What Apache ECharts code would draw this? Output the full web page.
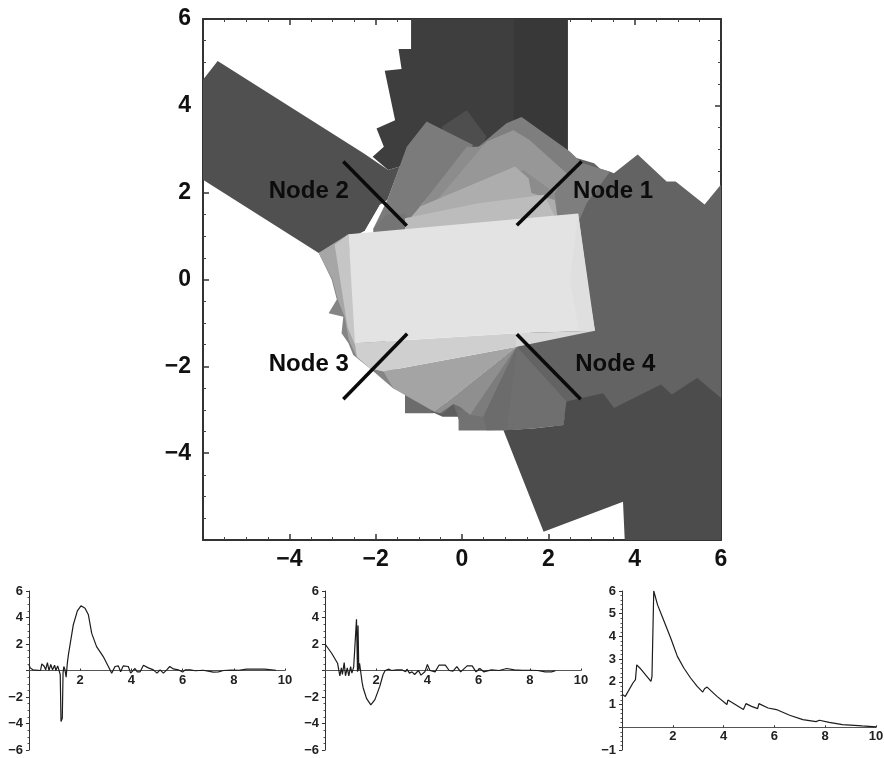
<!DOCTYPE html>
<html><head><meta charset="utf-8">
<style>html,body{margin:0;padding:0;background:#fff}#c{width:884px;height:758px;filter:blur(0.35px)}</style>
<script src="https://cdn.jsdelivr.net/npm/echarts@6/dist/echarts.min.js"></script>
</head><body><div id="c"></div>
<script>
// Regions of the main panel, in data units, painted back to front
const regionTop = [[-1.18,6],[2.45,6],[2.45,2.9],[1.2,2.6],[-1.3,2.3],[-1.44,2.6],[-1.71,2.52],[-2.07,2.83],[-1.81,3.06],[-1.98,3.48],[-1.55,3.67],[-1.79,4.81],[-1.40,4.85],[-1.47,5.31],[-1.18,5.31]];
const regionTopStrip = [[1.2,6],[2.45,6],[2.45,2.95],[1.2,3.6]];
const regionRight = [[2.3,2.9],[3.06,2.68],[3.2,2.55],[3.43,2.48],[3.52,2.45],[4.07,2.88],[4.74,2.26],[4.95,2.26],[5.62,1.73],[6,2.19],[6,-2.73],[2.4,-3.2],[1.27,-1.55],[2.68,0]];
const regionLower = [[0.96,-3.47],[1.89,-5.81],[3.73,-5.12],[3.77,-6],[6,-6],[6,-2.73],[5.45,-2.27],[4.86,-2.65],[4.61,-2.42],[3.52,-2.96],[3.27,-2.62],[2.42,-2.81],[2.35,-3.35],[1.65,-3.43]];
const regionBand = [[-6,4.6],[-5.66,5.03],[-2.28,2.91],[-1.71,2.52],[-1.44,2.6],[-1.73,1.83],[-1.90,1.72],[-2.25,1.12],[-2.7,0.9],[-3.32,0.61],[-6,2.3]];
const regionPeak = [[-0.47,3.52],[0.11,3.90],[0.57,3.29],[0.38,2.9],[-0.3,2.9]];
const regionOuterRight = [[0.38,3.06],[1.03,3.60],[1.38,3.74],[2.5,2.95],[2.77,2.69],[3.43,2.48],[2.89,1.76],[2.69,1.3],[0,1.1]];
const regionFanLeft = [[-0.82,3.64],[0.26,3.10],[-0.97,1.68],[-1.0,1.0],[-2.05,1.0],[-2.05,1.18],[-1.73,1.83],[-1.28,3.06]];
const regionFanWedge = [[-2.05,1.18],[-1.73,1.5],[-1.28,1.5],[-1.28,1.0],[-2.05,1.0]];
const regionFanMid = [[0.11,3.06],[0.38,3.06],[1.19,3.44],[1.57,3.21],[2.42,2.45],[2.15,1.99],[2.23,1.3],[-1.2,1.0],[-0.97,1.68]];
const regionFanMidRight = [[0.57,3.18],[1.19,3.44],[1.57,3.21],[2.42,2.45],[2.15,1.99],[1.42,2.52],[-0.6,1.8]];
const regionFanLight = [[1.23,2.6],[1.54,2.33],[1.61,1.99],[2.15,1.83],[2.23,1.3],[-1.32,1.0],[-1.32,1.27],[-0.97,1.68]];
const regionFanPale = [[-1.32,1.0],[-1.32,1.41],[0.34,1.75],[1.9,1.95],[2.23,1.3]];
const regionSliver = [[-1.90,1.72],[-1.81,1.72],[-2.13,1.14],[-2.25,1.12]];
const regionSideOuter = [[-3.32,0.61],[-2.63,1.04],[-1.36,-2.58],[-1.59,-2.51],[-2.13,-2.05],[-2.52,-1.74],[-2.63,-1.47],[-2.79,-1.24],[-2.75,-0.86],[-3.09,-0.78],[-2.9,-0.46],[-3.02,0]];
const regionSideMid = [[-3.32,0.61],[-2.63,1.04],[-2.44,-1.78],[-2.62,-1.4],[-2.72,-0.86],[-2.88,-0.46],[-3.0,0]];
const regionSidePale = [[-2.95,0.8],[-2.63,1.04],[-2.44,-1.6],[-2.65,-1.1]];
const regionBottomBack = [[1.27,-1.55],[-0.63,-3.05],[-0.45,-3.1],[-0.2,-2.87],[-0.05,-3.3],[0.96,-3.47],[2.35,-3.35],[2.42,-2.81]];
const regionBottomTile = [[-1.32,-2.4],[-1.32,-3.08],[-0.66,-3.08],[0.2,-2.2]];
const regionBottomNick = [[-0.72,-3.04],[-0.45,-3.16],[-0.08,-3.16],[-0.1,-2.7]];
const regionBottomFoot = [[-0.08,-3.0],[-0.08,-3.48],[0.57,-3.48],[0.96,-3.47],[1.3,-3.0]];
const regionSliceA = [[1.27,-1.55],[1.03,-3.47],[1.65,-3.43],[2.35,-3.35],[2.42,-2.81]];
const regionSliceB = [[1.27,-1.55],[0.49,-3.16],[0.57,-3.47],[1.03,-3.47]];
const regionSliceC = [[1.27,-1.55],[0.19,-3.12],[0.49,-3.16]];
const regionSliceD = [[1.27,-1.55],[-0.63,-3.05],[-0.51,-3.08],[-0.2,-2.87],[-0.05,-2.93],[0.19,-3.12]];
const regionSliceE = [[-1.82,-2.12],[1.27,-1.55],[-0.63,-3.05],[-1.59,-2.51]];
const regionStrip = [[-2.48,-1.47],[1.27,-1.24],[1.27,-1.55],[-1.82,-2.12],[-2.13,-2.05],[-2.44,-1.78]];
const regionBox = [[-2.63,1.04],[2.69,1.52],[3.08,-1.18],[1.27,-1.24],[-2.48,-1.47]];
const regionBoxEdge = [[2.69,1.52],[2.96,-0.47],[3.08,-1.18],[2.72,-1.2],[2.5,0]];
const regionStripRight = [[1.27,-1.24],[3.08,-1.18],[1.27,-1.55]];

const regions = [regionTop,regionTopStrip,regionBand,regionRight,regionPeak,regionOuterRight,regionFanLeft,regionFanWedge,regionFanMid,regionFanMidRight,regionFanLight,regionFanPale,regionSliver,regionSideOuter,regionSideMid,regionSidePale,regionBottomTile,regionBottomNick,regionBottomBack,regionBottomFoot,regionSliceA,regionSliceB,regionSliceC,regionSliceD,regionSliceE,regionStrip,regionLower,regionBox,regionBoxEdge,regionStripRight];
const regionGrays = ['#3e3e3e','#383838','#505050','#636363','#4e4e4e','#7e7e7e','#7b7b7b','#757575','#8c8c8c','#979797','#adadad','#bcbcbc','#ffffff','#858585','#a6a6a6','#c6c6c6','#6c6c6c','#5e5e5e','#6c6c6c','#727272','#6f6f6f','#6c6c6c','#7c7c7c','#8f8f8f','#a4a4a4','#cfcfcf','#4c4c4c','#e3e3e3','#dfdfdf','#d8d8d8'];

// Node rays and labels
const nodeRays = [[[1.27,1.25],[2.77,2.72]],[[-1.28,1.24],[-2.75,2.72]],[[-1.27,-1.25],[-2.75,-2.76]],[[1.27,-1.26],[2.75,-2.76]]];
const nodeLabels = ['Node 1','Node 2','Node 3','Node 4'];
const nodeLabelPos = [[3.5,2.03],[-3.55,2.03],[-3.55,-1.95],[3.55,-1.95]];

// Lower traces
const trace1 = [[0,0.4],[0.05,0.2],[0.15,0.05],[0.45,0],[0.5,0.5],[0.6,0.3],[0.65,0.05],[0.72,0.6],[0.78,0],[0.85,0.45],[0.92,0.05],[1,0.4],[1.05,0],[1.12,0.35],[1.18,0.3],[1.22,-0.3],[1.25,-3.85],[1.3,-3.6],[1.33,-0.2],[1.36,0.3],[1.4,0.1],[1.45,-0.5],[1.5,0.6],[1.54,1.2],[1.73,3.45],[1.89,4.5],[2.03,4.88],[2.19,4.7],[2.32,4.2],[2.45,2.8],[2.64,1.8],[2.9,1.05],[3.1,0.3],[3.23,-0.2],[3.36,0.3],[3.49,0.35],[3.58,-0.1],[3.68,0.35],[3.88,0.3],[3.97,-0.2],[4.14,0.15],[4.23,-0.1],[4.34,-0.1],[4.47,0.4],[4.66,0.2],[4.86,0.05],[5,-0.2],[5.12,0.05],[5.25,-0.2],[5.38,0.05],[5.5,0.3],[5.64,0.12],[5.83,0.05],[6,-0.12],[6.1,0.05],[6.3,0.05],[6.5,-0.02],[6.8,0.02],[7,-0.05],[7.2,-0.12],[7.4,-0.1],[7.6,0],[7.9,0.03],[8.2,0.02],[8.5,0.1],[8.55,0.1],[9.2,0.1],[9.25,0.02],[9.65,0.02]];
const trace2 = [[0,2],[0.05,2],[0.26,1.3],[0.49,0.55],[0.58,-0.4],[0.64,0.2],[0.68,-0.3],[0.75,0.6],[0.8,-0.4],[0.87,0.2],[0.93,-0.4],[1,0.3],[1.05,-0.2],[1.12,0.25],[1.18,0.1],[1.23,3.87],[1.27,-0.1],[1.29,3.4],[1.32,0],[1.35,0.55],[1.42,0.4],[1.45,-0.9],[1.49,-1.3],[1.62,-2.1],[1.79,-2.6],[1.95,-2.2],[2.14,-1.2],[2.27,-0.3],[2.35,0],[2.5,0.1],[2.6,0],[2.8,0.05],[3,0.05],[3.15,-0.1],[3.2,0.1],[3.3,-0.2],[3.4,-0.1],[3.5,-0.3],[3.65,0],[3.75,-0.35],[3.9,-0.1],[4,0.45],[4.1,0],[4.3,-0.1],[4.45,0.4],[4.7,0.4],[4.85,0],[5,-0.05],[5.15,0.3],[5.3,-0.1],[5.55,0.35],[5.75,0.35],[5.9,-0.1],[6.05,0.15],[6.2,-0.1],[6.5,0.05],[6.8,0],[7.1,0.15],[7.4,0.05],[7.7,0.02],[8,0.02],[8.3,0],[8.6,-0.1],[8.85,-0.1],[8.9,-0.02],[9,-0.02]];
const trace3 = [[0,1.46],[0.13,1.36],[0.43,1.95],[0.53,2.1],[0.58,2.75],[0.71,2.6],[0.75,2.68],[1.14,2.02],[1.18,2.24],[1.25,2.17],[1.25,6],[1.4,5.39],[1.66,4.66],[1.92,3.92],[2.18,3.12],[2.44,2.6],[2.7,2.17],[2.96,1.8],[3.18,1.55],[3.25,1.7],[3.29,1.65],[3.35,1.77],[3.74,1.36],[4.13,1],[4.17,1.2],[4.78,0.78],[4.88,1.04],[5.1,0.92],[5.13,0.95],[5.34,0.82],[5.39,1.04],[5.75,0.85],[5.82,0.91],[6.08,0.78],[6.14,0.82],[6.6,0.53],[7.12,0.34],[7.64,0.25],[7.77,0.31],[8.16,0.22],[8.68,0.12],[9.45,0.06],[10,0.02]];

const fmt = hide => v => v === hide ? '' : String(v).replace('-', '\u2212');
const font = 'Liberation Sans';
const frame = {show:true,onZero:false,lineStyle:{color:'#333',width:2}};
const mainTick = {show:true,inside:true,length:6,lineStyle:{color:'#333',width:1.5}};
const mainMinor = {show:true,splitNumber:4,length:3,lineStyle:{color:'#444',width:1}};
const bigLabel = {fontFamily:font,fontWeight:'bold',fontSize:23,color:'#111'};

const grids = [
  {left:203,top:19,width:518,height:521,outerBoundsMode:'none'},
  {left:29,top:591,width:256,height:159,outerBoundsMode:'none'},
  {left:325,top:591,width:256,height:159,outerBoundsMode:'none'},
  {left:622,top:591,width:254,height:159,outerBoundsMode:'none'}
];
function smallX(i,off){return {type:'value',gridIndex:i,min:0,max:10,interval:2,position:'bottom',offset:off,
  axisLine:{show:true,onZero:false,lineStyle:{color:'#555',width:1}},
  axisTick:{show:true,inside:true,length:2,lineStyle:{color:'#333'}},
  minorTick:{show:false},splitLine:{show:false},
  axisLabel:{margin:3,fontFamily:font,fontWeight:'bold',fontSize:13,color:'#222',formatter:fmt(0)}};}
function smallY(i,min,max,iv){return {type:'value',gridIndex:i,min,max,interval:iv,
  axisLine:{show:true,onZero:false,lineStyle:{color:'#333',width:1}},
  axisTick:{show:true,inside:false,length:3,lineStyle:{color:'#333'}},
  minorTick:{show:true,splitNumber:iv===2?4:5,length:1.5,lineStyle:{color:'#555'}},splitLine:{show:false},
  axisLabel:{margin:6,fontFamily:font,fontWeight:'bold',fontSize:13,color:'#222',formatter:fmt(0)}};}
const blank = {show:false};
const traceStyle = {color:'#1c1c1c',width:1.2};
const line = (d,i)=>({type:'line',xAxisIndex:i,yAxisIndex:i,data:d,showSymbol:false,clip:false,lineStyle:traceStyle,silent:true,z:5});

const option = {
  animation:false,backgroundColor:'#fff',
  grid:grids,
  xAxis:[
    {type:'value',gridIndex:0,min:-6,max:6,interval:2,position:'bottom',axisLine:frame,axisTick:mainTick,minorTick:mainMinor,splitLine:blank,minorSplitLine:blank,
     axisLabel:Object.assign({margin:8,formatter:fmt(-6)},bigLabel)},
    smallX(1,-79.5),smallX(2,-79.5),smallX(3,-22.7),
    {type:'value',gridIndex:0,min:-6,max:6,interval:2,position:'top',axisLine:frame,axisTick:mainTick,minorTick:mainMinor,splitLine:blank,axisLabel:blank}
  ],
  yAxis:[
    {type:'value',gridIndex:0,min:-6,max:6,interval:2,position:'left',axisLine:frame,axisTick:mainTick,minorTick:mainMinor,splitLine:blank,
     axisLabel:Object.assign({margin:12,formatter:fmt(-6)},bigLabel)},
    smallY(1,-6,6,2),smallY(2,-6,6,2),smallY(3,-1,6,1),
    {type:'value',gridIndex:0,min:-6,max:6,interval:2,position:'right',axisLine:frame,axisTick:mainTick,minorTick:mainMinor,splitLine:blank,axisLabel:blank}
  ],
  series:[
    {type:'custom',coordinateSystem:'cartesian2d',xAxisIndex:0,yAxisIndex:0,clip:true,silent:true,z:1,
     data:regions.map((r,i)=>[r[0][0],r[0][1],i]),
     encode:{x:0,y:1},
     renderItem:(params,api)=>{
       const i=api.value(2);
       return {type:'polygon',shape:{points:regions[i].map(p=>api.coord(p))},style:{fill:regionGrays[i]}};
     }},
    ...nodeRays.map(r=>({type:'line',xAxisIndex:0,yAxisIndex:0,data:r,showSymbol:false,silent:true,z:6,lineStyle:{color:'#0a0a0a',width:3.5,cap:'butt'}})),
    {type:'scatter',xAxisIndex:0,yAxisIndex:0,symbolSize:0,silent:true,z:7,itemStyle:{opacity:1},
     data:nodeLabelPos.map((p,i)=>({value:p,label:{show:true,position:'inside',opacity:1,formatter:nodeLabels[i],fontFamily:font,fontWeight:'bold',fontSize:24,color:'#0c0c0c'}}))},
    line(trace1,1),line(trace2,2),line(trace3,3)
  ]
};
const chart = echarts.init(document.getElementById('c'),null,{renderer:'canvas',width:884,height:758});
chart.setOption(option);
</script></body></html>
